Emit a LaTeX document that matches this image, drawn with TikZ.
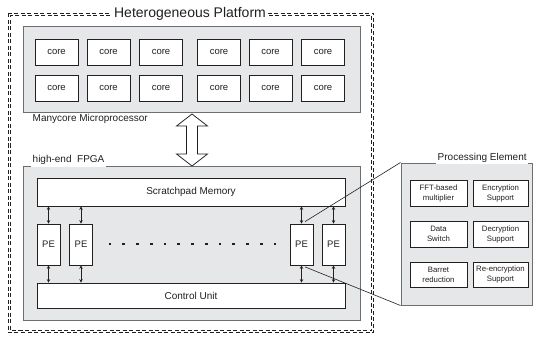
\documentclass[tikz,border=0pt]{standalone}
\usepackage{fontspec}
\setmainfont{Liberation Sans}
\usetikzlibrary{arrows.meta,calc}
\definecolor{panelgray}{HTML}{E6E7E8}
\definecolor{bordergray}{HTML}{6D6E71}
\definecolor{ink}{HTML}{231F20}
\tikzset{
  panel/.style={draw=bordergray, fill=panelgray, line width=1pt, inner sep=0pt},
  box/.style={draw=ink, fill=white, line width=0.75pt, inner sep=0pt, text=ink},
  corebox/.style={box, minimum width=43pt, minimum height=26pt, font=\fontsize{9.5}{11}\selectfont},
  pebox/.style={box, minimum width=23pt, minimum height=41pt, font=\fontsize{9.5}{11}\selectfont},
  unitbox/.style={box, minimum width=308pt, font=\fontsize{10}{12}\selectfont},
  funcbox/.style={box, minimum height=26pt, align=center, font=\fontsize{7.8}{10}\selectfont},
  borderlabel/.style={fill=white, inner sep=1.5pt, text=ink, font=\fontsize{10}{12}\selectfont},
  outerdash/.style={draw=ink, line width=0.65pt, dash pattern=on 4pt off 2.5pt},
  dblarrow/.style={draw=ink, line width=0.8pt, {Stealth[length=3.5pt,width=3.5pt]}-{Stealth[length=3.5pt,width=3.5pt]}},
  bigarrow/.style={draw=ink, fill=white, line width=0.75pt, line join=miter},
  zoomline/.style={draw=ink, line width=0.6pt},
  dotmark/.style={fill=ink, minimum size=2.6pt, inner sep=0pt}
}
\begin{document}
\begin{tikzpicture}[x=1pt,y=-1pt]
\useasboundingbox (0,0) rectangle (534,339);
% outer double dashed frame
\draw[outerdash] (8.5,13.5) rectangle (373.5,332.5);
\draw[outerdash, dash phase=2pt] (10.5,15.5) rectangle (371.5,330.5);
\node[fill=white, inner sep=2pt, text=ink, font=\fontsize{14}{16}\selectfont] (title) at (190,14) {Heterogeneous Platform};

% manycore processor
\node[panel, minimum width=337pt, minimum height=86pt] (mc) at (191.5,70) {};
\foreach \x [count=\i] in {56.5,108.5,161,219,270.5,323}{
  \node[corebox] (ca\i) at (\x,52) {core};
  \node[corebox] (cb\i) at (\x,88) {core};
}
\node[borderlabel, anchor=north west] (mclabel) at (31,112.5) {Manycore Microprocessor};

% FPGA
\node[panel, minimum width=337pt, minimum height=154pt] (fpga) at (191.5,243) {};
\node[borderlabel, anchor=south west, text depth=3pt] (fpgalabel) at (31,167) {high-end~~FPGA};
\node[unitbox, minimum height=28pt] (sp) at (191,192) {Scratchpad Memory};
\node[unitbox, minimum height=25pt] (cu) at (191,295.5) {Control Unit};
\node[pebox] (pe1) at (48.5,244.5) {PE};
\node[pebox] (pe2) at (81,244.5) {PE};
\node[pebox] (pe3) at (301.5,244.5) {PE};
\node[pebox] (pe4) at (333.5,244.5) {PE};
\foreach \p in {pe1,pe2,pe3,pe4}{
  \draw[dblarrow] (\p.north |- sp.south) -- (\p.north);
  \draw[dblarrow] (\p.south) -- (\p.south |- cu.north);
}
\foreach \k in {0,...,12}{
  \node[dotmark] (dot\k) at (110+13.75*\k,244) {};
}

% big hollow double arrow
\coordinate (atop) at ($(mc.south)+(0.5,0.5)$);
\draw[bigarrow] (atop) -- ++(-15.5,12) -- ++(10,0) -- ++(0,28) -- ++(-10,0)
  -- ++(15.5,12) -- ++(15.5,-12) -- ++(-10,0) -- ++(0,-28) -- ++(10,0) -- cycle;

% processing element detail
\node[panel, minimum width=131pt, minimum height=142pt] (pel) at (466.5,234) {};
\node[borderlabel, anchor=south west, text depth=2pt] (pellabel) at (436,164) {Processing Element};
\node[funcbox, minimum width=57pt] (fft) at (438.5,193) {FFT-based\\multiplier};
\node[funcbox, minimum width=55pt] (enc) at (500.5,193) {Encryption\\Support};
\node[funcbox, minimum width=57pt] (dsw) at (438.5,234) {Data\\Switch};
\node[funcbox, minimum width=55pt] (dec) at (500.5,234) {Decryption\\Support};
\node[funcbox, minimum width=57pt, minimum height=25pt] (bar) at (438.5,274.5) {Barret\\reduction};
\node[funcbox, minimum width=55pt, minimum height=25pt] (renc) at (500.5,274.5) {Re-encryption\\Support};

\draw[zoomline] ($(pe3.north)+(3.5,-2)$) -- (pel.north west);
\draw[zoomline] ($(pe3.south)+(3.5,1.5)$) -- (pel.south west);
\end{tikzpicture}
\end{document}
